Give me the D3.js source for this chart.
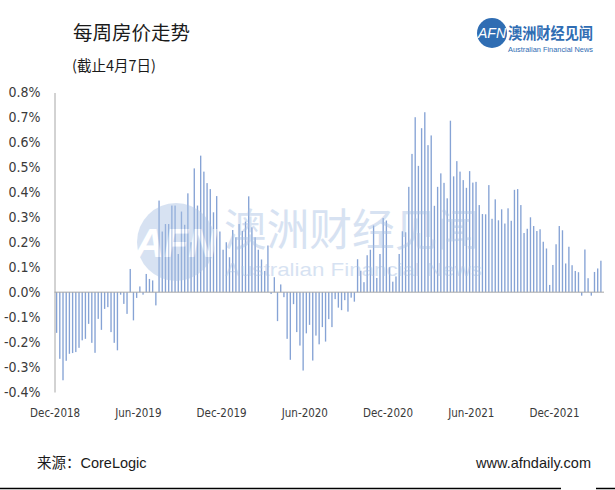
<!DOCTYPE html>
<html><head><meta charset="utf-8">
<script src="https://cdn.jsdelivr.net/npm/d3@7"></script>
<style>
html,body{margin:0;padding:0;background:#fff;}
svg{display:block;}
</style></head>
<body>
<script>
// Weekly home value change (%), Dec-2018 .. 7 Apr 2022
const weeks2018_19a = [-0.163,-0.267,-0.353,-0.275,-0.247,-0.244,-0.240,-0.223,-0.193,-0.187,-0.127,-0.203,-0.243,-0.107,-0.151,-0.067,-0.060,-0.160,-0.203,-0.233,-0.010,-0.047,-0.087,0.093,-0.113];
const weeks2019b = [-0.023,0.023,-0.010,0.073,0.053,0.047,-0.053,0.367,0.243,0.273,0.273,0.347,0.347,0.153,0.323,0.270,0.396,0.200,0.496,0.347,0.547,0.483,0.437,0.413];
const weeks2019_20a = [0.320,0.385,0.243,0.170,0.200,0.140,0.249,0.220,0.273,0.245,0.283,0.384,0.260,0.220,0.170,0.131,0.085,0.187,-0.007,0.060,-0.116,0.031,-0.020,-0.187,-0.271];
const weeks2020b = [-0.048,-0.160,-0.214,-0.314,-0.165,-0.131,-0.274,-0.174,-0.209,-0.140,-0.198,-0.108,-0.140,-0.028,-0.062,-0.072,-0.032,-0.078,-0.022,-0.038,0.132,0.086,0.040];
const weeks2020_21a = [0.148,0.170,0.267,0.057,0.153,0.297,0.287,0.100,0.042,0.063,0.153,0.244,0.240,0.422,0.554,0.701,0.506,0.657,0.721,0.589,0.628,0.346,0.422,0.476,0.438,0.376];
const weeks2021_22 = [0.687,0.464,0.525,0.483,0.449,0.418,0.485,0.439,0.442,0.349,0.313,0.312,0.429,0.294,0.372,0.288,0.332,0.275,0.336,0.286,0.410,0.413,0.349,0.237,0.254,0.300,0.265,0.245,0.252,0.202,0.175,0.029,0.109,0.192,0.265,0.248,0.115,0.182,0.108,0.085,0.080,-0.014,0.171,0.056,-0.014,0.081,0.095,0.126];
const values = [].concat(weeks2018_19a, weeks2019b, weeks2019_20a, weeks2020b, weeks2020_21a, weeks2021_22);

const tickLabels = ["Dec-2018","Jun-2019","Dec-2019","Jun-2020","Dec-2020","Jun-2021","Dec-2021"];
const tickIndex = [0,26,52,78,104,130,156];
const yTicks = [-0.4,-0.3,-0.2,-0.1,0,0.1,0.2,0.3,0.4,0.5,0.6,0.7,0.8];

const W = 615, H = 490;
const svg = d3.select("body").append("svg").attr("width", W).attr("height", H);

const x = d3.scaleBand().domain(d3.range(values.length)).range([55, 602.5]).paddingInner(0);
const y = d3.scaleLinear().domain([-0.4, 0.8]).range([392, 92.5]);

// bars
const bw = 1.35;
svg.append("g").selectAll("rect").data(values).join("rect")
  .attr("x", (d,i) => x(i) + x.bandwidth()/2 - bw/2)
  .attr("width", bw)
  .attr("y", d => y(Math.max(0,d)))
  .attr("height", d => Math.abs(y(d) - y(0)))
  .attr("fill", "#86a3d5");

// zero line (category axis)
svg.append("line").attr("x1", 54.5).attr("x2", 604).attr("y1", y(0)).attr("y2", y(0))
  .attr("stroke", "#a6a6a6").attr("stroke-width", 1);

// y axis
const yAxis = d3.axisLeft(y).tickValues(yTicks)
  .tickFormat(d => (d*1).toFixed(1) + "%").tickSize(0).tickPadding(14);
const gy = svg.append("g").attr("transform", "translate(54.5,0)").call(yAxis);
gy.select(".domain").attr("stroke", "#a6a6a6").attr("stroke-width", 1);
gy.selectAll("text").attr("font-family", "'DejaVu Sans Condensed','DejaVu Sans',sans-serif")
  .attr("font-stretch", "condensed").attr("font-size", 14).attr("fill", "#3a3a3a");

// x labels
const xAxis = d3.axisBottom(x).tickValues(tickIndex).tickFormat(d => tickLabels[tickIndex.indexOf(d)]).tickSize(0).tickPadding(11);
const gx = svg.append("g").attr("transform", "translate(-1.5," + 398 + ")").call(xAxis);
gx.select(".domain").remove();
gx.selectAll("text").attr("font-family", "'DejaVu Sans Condensed','DejaVu Sans',sans-serif")
  .attr("font-stretch", "condensed").attr("font-size", 11.5).attr("fill", "#3a3a3a");

// watermark
const wm = svg.append("g").attr("opacity", 0.45);
wm.append("circle").attr("cx", 176).attr("cy", 242).attr("r", 39).attr("fill", "#a8c1e4");
wm.append("text").attr("x", 176).attr("y", 257).attr("text-anchor", "middle")
  .attr("font-family", "'Liberation Sans',Arial,sans-serif").attr("font-weight", "bold")
  .attr("font-style", "italic").attr("font-size", 40).attr("fill", "#fff").text("AFN");
wm.append("text").attr("x", 224).attr("y", 246).attr("textLength", 256).attr("lengthAdjust", "spacingAndGlyphs")
  .attr("font-family", "'Noto Sans CJK SC',sans-serif").attr("font-size", 44).attr("fill", "#a8c1e4").text("澳洲财经见闻");
wm.append("text").attr("x", 225).attr("y", 276).attr("textLength", 257).attr("lengthAdjust", "spacingAndGlyphs")
  .attr("font-family", "'Liberation Sans',Arial,sans-serif").attr("font-size", 19).attr("fill", "#a8c1e4").text("Australian Financial News");

// titles
svg.append("text").attr("x", 73).attr("y", 40).attr("font-family", "'Noto Sans CJK SC',sans-serif")
  .attr("font-size", 19.5).attr("fill", "#1a1a1a").text("每周房价走势");
svg.append("text").attr("x", 72).attr("y", 71).attr("font-family", "'Noto Sans CJK SC',sans-serif")
  .attr("font-size", 14.5).attr("fill", "#1a1a1a").text("(截止4月7日)");

// logo
const logo = svg.append("g");
logo.append("circle").attr("cx", 492).attr("cy", 33).attr("r", 15).attr("fill", "#2f6db3");
logo.append("text").attr("x", 492).attr("y", 38).attr("text-anchor", "middle")
  .attr("font-family", "'Liberation Sans',Arial,sans-serif").attr("font-style", "italic")
  .attr("font-size", 14).attr("fill", "#fff").text("AFN");
logo.append("text").attr("x", 508).attr("y", 39).attr("textLength", 85).attr("lengthAdjust", "spacingAndGlyphs")
  .attr("font-family", "'Noto Sans CJK SC',sans-serif").attr("font-weight", "bold")
  .attr("font-size", 16).attr("fill", "#2f6db3").text("澳洲财经见闻");
logo.append("text").attr("x", 508).attr("y", 52).attr("textLength", 85).attr("lengthAdjust", "spacingAndGlyphs")
  .attr("font-family", "'Liberation Sans',Arial,sans-serif")
  .attr("font-size", 8).attr("fill", "#2f6db3").text("Australian Financial News");

// footer
svg.append("text").attr("x", 37).attr("y", 468).attr("font-family", "'Liberation Sans','Noto Sans CJK SC',sans-serif")
  .attr("font-size", 14.5).attr("fill", "#1a1a1a").text("来源：CoreLogic");
svg.append("text").attr("x", 591).attr("y", 468).attr("text-anchor", "end").attr("font-family", "'Liberation Sans',Arial,sans-serif")
  .attr("font-size", 14.5).attr("fill", "#1a1a1a").text("www.afndaily.com");
svg.append("line").attr("x1", 0).attr("x2", 561).attr("y1", 488.5).attr("y2", 488.5).attr("stroke", "#000").attr("stroke-width", 1.5);
svg.append("line").attr("x1", 596).attr("x2", 615).attr("y1", 488.5).attr("y2", 488.5).attr("stroke", "#000").attr("stroke-width", 1.5);
</script>
</body></html>
